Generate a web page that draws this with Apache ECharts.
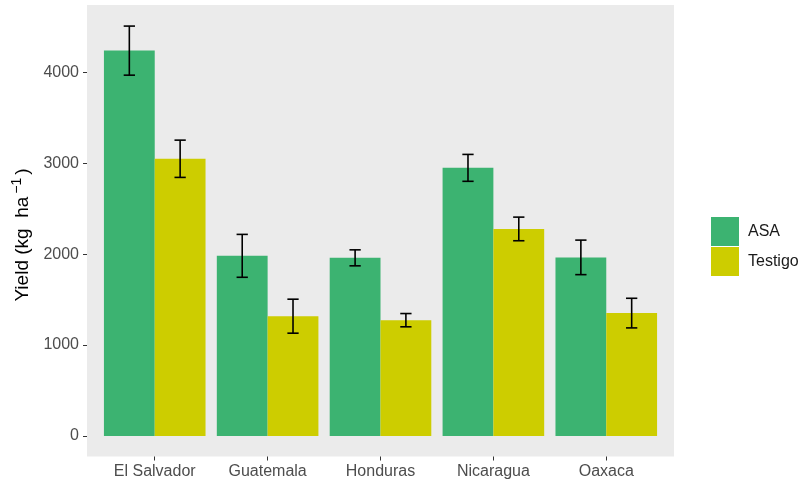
<!DOCTYPE html>
<html>
<head>
<meta charset="utf-8">
<script src="https://cdn.jsdelivr.net/npm/echarts@6/dist/echarts.min.js"></script>
<style>
  html, body { margin: 0; padding: 0; background: #ffffff; }
  #chart { width: 798px; height: 484px; }
</style>
</head>
<body>
<div id="chart"></div>
<script>
// Mean yield by site and treatment, with standard errors
const categories = ['El Salvador', 'Guatemala', 'Honduras', 'Nicaragua', 'Oaxaca'];
const asaYield = [4240, 1982, 1960, 2950, 1965];
const testigoYield = [3050, 1318, 1274, 2278, 1352];
const asaError = [270, 236, 88, 148, 190];
const testigoError = [205, 187, 73, 130, 163];
const yTicks = [0, 1000, 2000, 3000, 4000];

const GREEN = '#3cb371';
const YELLOW = '#cdcd00';

function errorData(means, errs) {
  return means.map((m, i) => [i, m - errs[i], m + errs[i]]);
}

function errorBarRenderer(side) {
  return function (params, api) {
    const c = api.value(0);
    const band = api.size([1, 0])[0];
    const dx = side * band * 0.225;
    const lo = api.coord([c, api.value(1)]);
    const hi = api.coord([c, api.value(2)]);
    const x = lo[0] + dx;
    const half = band * 0.05;
    const style = { stroke: '#000000', lineWidth: 1.6 };
    return {
      type: 'group',
      children: [
        { type: 'line', shape: { x1: x, y1: hi[1], x2: x, y2: lo[1] }, style },
        { type: 'line', shape: { x1: x - half, y1: hi[1], x2: x + half, y2: hi[1] }, style },
        { type: 'line', shape: { x1: x - half, y1: lo[1], x2: x + half, y2: lo[1] }, style }
      ]
    };
  };
}

const chart = echarts.init(document.getElementById('chart'), null, { renderer: 'canvas' });

const panel = { x: 87, y: 5, w: 587, h: 451.5 };
const unit = panel.w / 5.2;

chart.setOption({
  animation: false,
  backgroundColor: '#ffffff',
  textStyle: { fontFamily: 'Liberation Sans, Arial, sans-serif' },
  graphic: [
    {
      type: 'rect', z: -10, silent: true,
      shape: { x: panel.x, y: panel.y, width: panel.w, height: panel.h },
      style: { fill: '#ebebeb' }
    },
    {
      type: 'text', z: 10,
      x: 23, y: 235, rotation: Math.PI / 2,
      style: {
        text: 'Yield (kg  ha{sup|−1}{cl|)}',
        fill: '#000000',
        font: '19px "Liberation Sans", Arial, sans-serif',
        align: 'center',
        verticalAlign: 'middle',
        rich: {
          sup: { fontSize: 14, verticalAlign: 'top', padding: [0, 2, 11, 3], fill: '#000000' },
          cl: { fontSize: 19, padding: [0, 0, 0, 1], fill: '#000000' }
        }
      }
    }
  ],
  legend: {
    data: ['ASA', 'Testigo'],
    orient: 'vertical',
    left: 706,
    top: 212,
    itemWidth: 28,
    itemHeight: 29,
    itemGap: 1,
    icon: 'rect',
    textStyle: { fontSize: 16, color: '#1a1a1a', padding: [0, 0, 0, 4] }
  },
  grid: {
    left: panel.x + unit * 0.1,
    right: 798 - (panel.x + panel.w - unit * 0.1),
    top: panel.y,
    bottom: 484 - (panel.y + panel.h),
    containLabel: false
  },
  xAxis: {
    type: 'category',
    data: categories,
    axisLine: { show: false, onZero: false },
    axisTick: { show: true, alignWithLabel: true, length: 4, lineStyle: { color: '#333333', width: 1 } },
    axisLabel: { color: '#4d4d4d', fontSize: 16, margin: 7 },
    splitLine: { show: false }
  },
  yAxis: {
    type: 'value',
    min: -226,
    max: 4742,
    offset: unit * 0.1,
    axisLine: { show: false },
    axisTick: { show: true, length: 4, customValues: yTicks, lineStyle: { color: '#333333', width: 1 } },
    axisLabel: {
      color: '#4d4d4d', fontSize: 16, margin: 8, customValues: yTicks,
      formatter: (v) => String(v)
    },
    splitLine: { show: false }
  },
  series: [
    {
      name: 'ASA', type: 'bar', data: asaYield,
      barGap: '0%', barCategoryGap: '10%',
      itemStyle: { color: GREEN }
    },
    {
      name: 'Testigo', type: 'bar', data: testigoYield,
      barGap: '0%', barCategoryGap: '10%',
      itemStyle: { color: YELLOW }
    },
    {
      name: 'ASA SE', type: 'custom', z: 5,
      data: errorData(asaYield, asaError),
      encode: { x: 0, y: [1, 2] },
      renderItem: errorBarRenderer(-1)
    },
    {
      name: 'Testigo SE', type: 'custom', z: 5,
      data: errorData(testigoYield, testigoError),
      encode: { x: 0, y: [1, 2] },
      renderItem: errorBarRenderer(1)
    }
  ]
});
</script>
</body>
</html>
